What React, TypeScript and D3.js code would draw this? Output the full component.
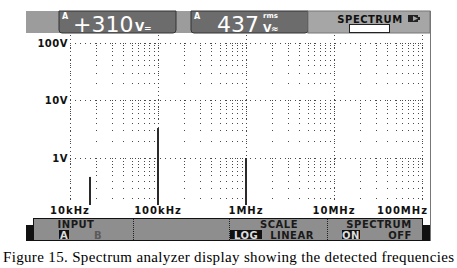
import React from "react";
import * as d3 from "d3";

// spectral lines
const lineFreqs = [17e3, 1e5, 1e6];
const lineVolts = [0.47, 3.3, 1.0];

// axis ticks
const freqTicks = [1e4, 1e5, 1e6, 1e7, 1e8];
const freqLabels = ["10kHz", "100kHz", "1MHz", "10MHz", "100MHz"];
const voltTicks = [100, 10, 1];
const voltLabels = ["100V", "10V", "1V"];

// readings in the header
const readingA = "+310";
const readingB = "437";

const W = 457;
const H = 268;

const plot = { left: 70, right: 422, top: 35, bottom: 205 };

const x = d3.scaleLog().domain([1e4, 1e8]).range([70, 422]);
const y = d3.scaleLog().domain([1, 100]).range([158, 42.5]);

const pixelFont = "'DejaVu Sans', sans-serif";

// minor log positions (2..9 of each decade) plus the decades
const minorFreqs: number[] = [];
for (let k = 4; k < 8; k++) for (let m = 2; m <= 9; m++) minorFreqs.push(m * 10 ** k);
const minorVolts: number[] = [];
for (let k = -1; k < 3; k++) for (let m = 1; m <= 9; m++) {
    const v = m * 10 ** k;
    const py = y(v);
    if (py >= plot.top && py <= plot.bottom - 2) minorVolts.push(v);
}

const roundBottom = (x0: number, y0: number, w: number, h: number, r: number) =>
    `M${x0},${y0} H${x0 + w} V${y0 + h - r} Q${x0 + w},${y0 + h} ${x0 + w - r},${y0 + h} H${x0 + r} Q${x0},${y0 + h} ${x0},${y0 + h - r} Z`;

export default function App() {
    const baseY = plot.bottom;
    return (
        <svg width={W} height={H} style={{ position: "absolute", left: 0, top: 0, background: "#fff" }}>
            {/* grid dots at minor intersections */}
            <g fill="#4a4a4a">
                {[...freqTicks, ...minorFreqs].map((f) =>
                    minorVolts.map((v) => (
                        <rect key={`${f}-${v}`} x={Math.round(x(f))} y={Math.round(y(v))} width={1} height={1} />
                    ))
                )}
            </g>
            {/* decade lines */}
            <g stroke="#4a4a4a" strokeWidth={1}>
                {voltTicks.map((v) => (
                    <line key={v} x1={plot.left} x2={plot.right + 2} y1={Math.round(y(v)) + 0.5} y2={Math.round(y(v)) + 0.5} strokeDasharray="1,4" />
                ))}
                {freqTicks.map((f) => (
                    <line key={f} x1={Math.round(x(f)) + 0.5} x2={Math.round(x(f)) + 0.5} y1={plot.top} y2={plot.bottom - 2} strokeDasharray="1,3" />
                ))}
            </g>

            {/* spectral lines */}
            <g fill="#2a2a2a">
                {lineFreqs.map((f, i) => (
                    <rect key={f} x={Math.round(x(f)) - 1} y={y(lineVolts[i])} width={2} height={baseY - y(lineVolts[i])} />
                ))}
            </g>

            {/* y labels */}
            <g fontFamily={pixelFont} fontWeight="bold" fontSize={10} fill="#111" textAnchor="end">
                {voltTicks.map((v, i) => (
                    <text key={v} x={68} y={y(v) + 4} letterSpacing={0.5}>{voltLabels[i]}</text>
                ))}
            </g>
            {/* x labels */}
            <g fontFamily={pixelFont} fontWeight="bold" fontSize={10} fill="#111">
                {freqTicks.map((f, i) => {
                    const last = i === freqTicks.length - 1;
                    return (
                        <text key={f} x={last ? 428 : x(f)} y={214} textAnchor={last ? "end" : "middle"} letterSpacing={1}>
                            {freqLabels[i]}
                        </text>
                    );
                })}
            </g>

            {/* right border */}
            <line x1={430.5} x2={430.5} y1={11} y2={241} stroke="#777" />

            {/* header */}
            <rect x={26} y={11} width={404} height={22} fill="#9c9c9c" />
            <path d={roundBottom(59, 11, 117, 22, 3)} fill="#6c6c6c" stroke="#333" />
            <path d={roundBottom(191, 11, 117, 22, 3)} fill="#6c6c6c" stroke="#333" />
            <rect x={308} y={11} width={122} height={22} fill="#a6a6a6" stroke="#777" />
            <g fill="#fff" fontFamily={pixelFont}>
                <text x={62} y={19} fontSize={8} fontWeight="bold">A</text>
                <text x={73} y={32} fontSize={22}>{readingA}</text>
                <text x={135} y={31} fontSize={12} fontWeight="bold">V</text>
                <text x={144} y={31} fontSize={9} fontWeight="bold">=</text>
                <text x={194} y={19} fontSize={8} fontWeight="bold">A</text>
                <text x={217} y={32} fontSize={22}>{readingB}</text>
                <text x={263} y={18} fontSize={7} fontWeight="bold">rms</text>
                <text x={263} y={31.5} fontSize={11} fontWeight="bold">V</text>
                <text x={271} y={31.5} fontSize={9} fontWeight="bold">≈</text>
            </g>
            <text x={370} y={23} textAnchor="middle" fontFamily={pixelFont} fontWeight="bold" fontSize={10} fill="#111" letterSpacing={0.5}>
                SPECTRUM
            </text>
            {/* battery icon */}
            <path d="M408,15 H418 V17 H420 V20 H418 V22 H408 Z" fill="#222" />
            <path d="M413,16 L418,18.5 L413,21 Z" fill="#a6a6a6" />
            <rect x={349.5} y={24.5} width={40} height={8} fill="#fff" stroke="#222" />

            {/* bottom menu */}
            <rect x={26} y={225} width={404} height={16} fill="#111" />
            <rect x={33.5} y={218.5} width={389} height={22} fill="#8e8e8e" stroke="#111" />
            <g stroke="#222" strokeDasharray="1,1">
                <line x1={133.5} x2={133.5} y1={219} y2={240} />
                <line x1={229.5} x2={229.5} y1={219} y2={240} />
                <line x1={327.5} x2={327.5} y1={219} y2={240} />
            </g>
            <g fontFamily={pixelFont} fontWeight="bold" fontSize={10} fill="#1a1a1a" letterSpacing={0.5}>
                <text x={76} y={228} textAnchor="middle">INPUT</text>
                <text x={279} y={228} textAnchor="middle">SCALE</text>
                <text x={379} y={228} textAnchor="middle">SPECTRUM</text>
                <rect x={59} y={230} width={10} height={9} fill="#111" />
                <text x={64} y={238.5} textAnchor="middle" fill="#ddd">A</text>
                <text x={98} y={238.5} textAnchor="middle" fill="#5a5a5a">B</text>
                <rect x={230} y={230} width={32} height={9} fill="#111" />
                <text x={246} y={238.5} textAnchor="middle" fill="#ddd">LOG</text>
                <text x={292} y={238.5} textAnchor="middle">LINEAR</text>
                <rect x={342} y={230} width={18} height={9} fill="#111" />
                <text x={351} y={238.5} textAnchor="middle" fill="#ddd">ON</text>
                <text x={400} y={238.5} textAnchor="middle">OFF</text>
            </g>

            {/* caption */}
            <text x={3} y={262} fontFamily="'Liberation Serif', serif" fontSize={15} fill="#000" textLength={451} lengthAdjust="spacing">
                Figure 15. Spectrum analyzer display showing the detected frequencies
            </text>
        </svg>
    );
}
